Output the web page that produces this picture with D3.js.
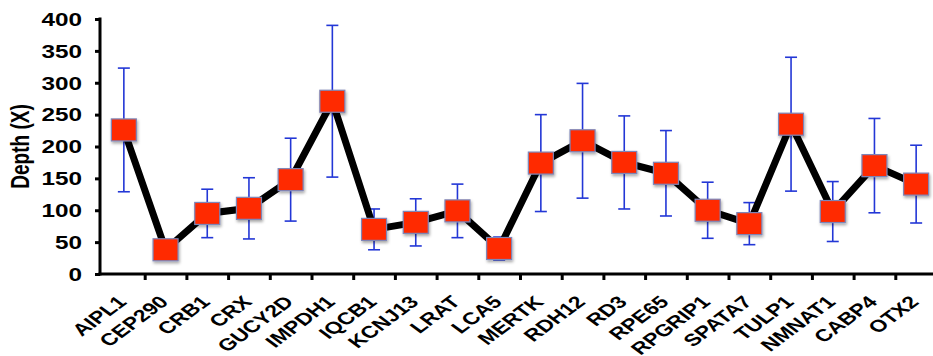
<!DOCTYPE html>
<html>
<head>
<meta charset="utf-8">
<script src="https://cdn.jsdelivr.net/npm/d3@7"></script>
<style>
  body { margin: 0; background: #fff; }
  svg { display: block; font-family: "Liberation Sans", Arial, sans-serif; }
  .axis path, .axis line { stroke: #000; }
  .axis text { font-weight: bold; font-size: 18px; fill: #000; }
</style>
</head>
<body>
<div id="graphic"></div>
<script>
// gene names along the x axis
var genes = ['AIPL1', 'CEP290', 'CRB1', 'CRX', 'GUCY2D', 'IMPDH1', 'IQCB1', 'KCNJ13', 'LRAT', 'LCA5',
	'MERTK', 'RDH12', 'RD3', 'RPE65', 'RPGRIP1', 'SPATA7', 'TULP1', 'NMNAT1', 'CABP4', 'OTX2'];
// mean depth
var depth = [226, 38, 95, 103, 148, 271, 70, 81, 99, 40,
	174, 209, 175, 158, 100, 79, 235, 98, 170, 141];
// error (+/-)
var err = [97, 8, 38, 48, 65, 119, 32, 37, 42, 18,
	76, 90, 73, 67, 44, 33, 105, 47, 74, 61];
var yTicks = [0, 50, 100, 150, 200, 250, 300, 350, 400];

var width = 933, height = 356;
var sx = 1.35; // the original picture is stretched sideways

var svg = d3.select('#graphic').append('svg')
	.attr('width', width)
	.attr('height', height);

var x = d3.scaleBand().domain(genes).range([103, 937]);
var bounds = d3.scaleLinear().domain([0, genes.length]).range([103, 937]);
var y = d3.scaleLinear().domain([0, 400]).range([274, 19]);

var cx = function (d, i) { return x(genes[i]) + x.bandwidth() / 2; };

// y axis
var yAxis = svg.append('g')
	.attr('class', 'y axis')
	.attr('transform', 'translate(100,0)')
	.call(d3.axisLeft(y).tickValues(yTicks).tickSize(5).tickPadding(0));
yAxis.select('.domain').attr('stroke-width', 3).attr('d', 'M0,17.5V275.5');
yAxis.selectAll('.tick line').attr('stroke-width', 3);
yAxis.selectAll('.tick text')
	.attr('x', -18 / sx)
	.attr('dy', '0.35em')
	.attr('transform', 'scale(' + sx + ',1)');

// x axis: line plus ticks at category boundaries
var xAxis = svg.append('g')
	.attr('class', 'x axis')
	.attr('transform', 'translate(0,' + y(0) + ')')
	.call(d3.axisBottom(bounds).tickValues(d3.range(1, genes.length)).tickSize(6).tickFormat(''));
xAxis.select('.domain').attr('stroke-width', 3).attr('d', 'M98.5,0H937');
xAxis.selectAll('.tick line').attr('stroke-width', 3);

// gene labels
svg.append('g').selectAll('text')
	.data(genes)
	.join('text')
	.attr('text-anchor', 'end')
	.attr('font-weight', 'bold')
	.attr('font-size', '17px')
	.attr('transform', function (d) {
		return 'translate(' + (x(d) + x.bandwidth() / 2 + 4) + ',303) scale(' + sx + ',1) rotate(-45)';
	})
	.text(function (d) { return d; });

// y axis title
svg.append('text')
	.attr('text-anchor', 'middle')
	.attr('font-weight', 'bold')
	.attr('font-size', '19px')
	.attr('transform', 'translate(29,' + y(200) + ') scale(' + sx + ',1) rotate(-90)')
	.text('Depth (X)');

// error bars
var eb = svg.append('g').attr('stroke', '#2337d6').attr('stroke-width', 1.6);
eb.selectAll('line.v')
	.data(depth)
	.join('line')
	.attr('class', 'v')
	.attr('x1', cx).attr('x2', cx)
	.attr('y1', function (d, i) { return y(d + err[i]); })
	.attr('y2', function (d, i) { return y(Math.max(0, d - err[i])); });
eb.selectAll('line.top')
	.data(depth)
	.join('line')
	.attr('class', 'top')
	.attr('x1', function (d, i) { return cx(d, i) - 6; })
	.attr('x2', function (d, i) { return cx(d, i) + 6; })
	.attr('y1', function (d, i) { return y(d + err[i]); })
	.attr('y2', function (d, i) { return y(d + err[i]); });
eb.selectAll('line.bot')
	.data(depth)
	.join('line')
	.attr('class', 'bot')
	.attr('x1', function (d, i) { return cx(d, i) - 6; })
	.attr('x2', function (d, i) { return cx(d, i) + 6; })
	.attr('y1', function (d, i) { return y(Math.max(0, d - err[i])); })
	.attr('y2', function (d, i) { return y(Math.max(0, d - err[i])); });

// connecting line
var line = d3.line()
	.x(cx)
	.y(function (d) { return y(d); });
svg.append('path')
	.datum(depth)
	.attr('fill', 'none')
	.attr('stroke', '#000')
	.attr('stroke-width', 7)
	.attr('stroke-linejoin', 'miter')
	.attr('d', line);

// shadow for markers
var defs = svg.append('defs');
var f = defs.append('filter').attr('id', 'shadow').attr('x', '-30%').attr('y', '-30%').attr('width', '160%').attr('height', '160%');
f.append('feDropShadow').attr('dx', 1).attr('dy', 2).attr('stdDeviation', 1.5).attr('flood-color', '#000').attr('flood-opacity', 0.35);

// markers
svg.append('g').selectAll('rect')
	.data(depth)
	.join('rect')
	.attr('x', function (d, i) { return cx(d, i) - 12.5; })
	.attr('y', function (d) { return y(d) - 11; })
	.attr('width', 25)
	.attr('height', 22)
	.attr('fill', '#ff2a00')
	.attr('stroke', '#7d86b8')
	.attr('stroke-width', 1.2)
	.attr('filter', 'url(#shadow)');
</script>
</body>
</html>
